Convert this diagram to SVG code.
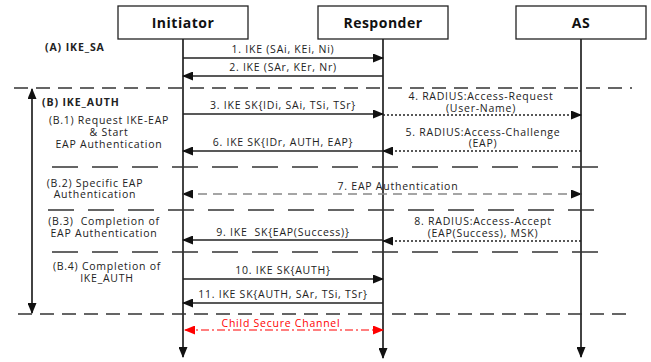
<svg xmlns="http://www.w3.org/2000/svg" width="651" height="362" viewBox="0 0 651 362">
<style>
text{font-family:"Open Sans","Noto Sans","DejaVu Sans",sans-serif;font-size:10.5px;letter-spacing:0.75px;fill:#222}
.b{font-weight:bold;letter-spacing:0.9px}
.hd{font-weight:bold;font-size:14px;letter-spacing:0.5px;fill:#111}
.m{text-anchor:middle}
.box{fill:#fff;stroke:#222;stroke-width:1.3}
.life{stroke:#222;stroke-width:1.7;fill:none}
.msg{stroke:#222;stroke-width:1.4;fill:none}
.dot{stroke:#222;stroke-width:1.3;stroke-dasharray:2,2;fill:none}
.gray{stroke:#888;stroke-width:1.4;stroke-dasharray:9,6;fill:none}
.red{stroke:#f00;stroke-width:1.2;stroke-dasharray:8,3,2,3;fill:none}
.sep{stroke:#333;stroke-width:1.4;stroke-dasharray:14,8;fill:none}
.sep2{stroke:#333;stroke-width:1.4;stroke-dasharray:26,14;fill:none}
</style>
<defs>
<marker id="ah" markerUnits="userSpaceOnUse" markerWidth="11" markerHeight="9" refX="10" refY="4.5" orient="auto-start-reverse"><path d="M0,0 L11,4.5 L0,9 z" fill="#111"/></marker>
<marker id="ahr" markerUnits="userSpaceOnUse" markerWidth="11" markerHeight="9" refX="10" refY="4.5" orient="auto-start-reverse"><path d="M0,0 L11,4.5 L0,9 z" fill="#f00"/></marker>
</defs>
<g id="initiator">
<rect class="box" x="118" y="6" width="130" height="33"/>
<text class="hd m" x="183" y="28">Initiator</text>
</g>
<g id="responder">
<rect class="box" x="318" y="6" width="130" height="33"/>
<text class="hd m" x="383" y="28">Responder</text>
</g>
<g id="as">
<rect class="box" x="516" y="6" width="130" height="33"/>
<text class="hd m" x="581" y="28">AS</text>
</g>
<g id="labels">
<text class="b" x="45" y="51">(A) IKE_SA</text>
<text class="b" x="42" y="106">(B) IKE_AUTH</text>
<text class="m" x="109" y="124">(B.1) Request IKE-EAP</text>
<text class="m" x="109" y="136">&amp; Start</text>
<text class="m" x="109" y="148">EAP Authentication</text>
<text class="m" x="95" y="187">(B.2) Specific EAP</text>
<text class="m" x="95" y="198">Authentication</text>
<text class="m" x="104" y="225" xml:space="preserve">(B.3)  Completion of</text>
<text class="m" x="104" y="237">EAP Authentication</text>
<text class="m" x="107" y="270">(B.4) Completion of</text>
<text class="m" x="107" y="282">IKE_AUTH</text>
</g>
<g id="connectors">
<line class="life" x1="183" y1="39" x2="183" y2="357" marker-end="url(#ah)"/>
<line class="life" x1="383" y1="39" x2="383" y2="358" marker-end="url(#ah)"/>
<line class="life" x1="581" y1="39" x2="581" y2="357" marker-end="url(#ah)"/>
<line class="life" x1="32" y1="89" x2="32" y2="313" marker-start="url(#ah)" marker-end="url(#ah)"/>
<line class="sep" x1="14" y1="88" x2="632" y2="88"/>
<line class="sep2" x1="52" y1="167" x2="598" y2="167"/>
<line class="sep2" x1="48" y1="210" x2="598" y2="210"/>
<line class="sep2" x1="52" y1="252" x2="598" y2="252"/>
<line class="sep" x1="18" y1="314" x2="634" y2="314"/>
<line class="msg" x1="183" y1="58" x2="383" y2="58" marker-end="url(#ah)"/>
<text class="m" x="283" y="53">1. IKE (SAi, KEi, Ni)</text>
<line class="msg" x1="383" y1="76" x2="183" y2="76" marker-end="url(#ah)"/>
<text class="m" x="283" y="71">2. IKE (SAr, KEr, Nr)</text>
<line class="msg" x1="183" y1="114" x2="383" y2="114" marker-end="url(#ah)"/>
<text class="m" x="283" y="109">3. IKE SK{IDi, SAi, TSi, TSr}</text>
<line class="dot" x1="383" y1="115" x2="581" y2="115" marker-end="url(#ah)"/>
<text class="m" x="481" y="100">4. RADIUS:Access-Request</text>
<text class="m" x="481" y="112">(User-Name)</text>
<line class="dot" x1="581" y1="151" x2="383" y2="151" marker-end="url(#ah)"/>
<text class="m" x="483" y="136">5. RADIUS:Access-Challenge</text>
<text class="m" x="483" y="147">(EAP)</text>
<line class="msg" x1="383" y1="151" x2="183" y2="151" marker-end="url(#ah)"/>
<text class="m" x="283" y="146">6. IKE SK{IDr, AUTH, EAP}</text>
<line class="gray" x1="183" y1="194" x2="581" y2="194" marker-start="url(#ah)" marker-end="url(#ah)"/>
<text class="m" x="398" y="190">7. EAP Authentication</text>
<line class="dot" x1="581" y1="241" x2="383" y2="241" marker-end="url(#ah)"/>
<text class="m" x="483" y="225">8. RADIUS:Access-Accept</text>
<text class="m" x="483" y="237">(EAP(Success), MSK)</text>
<line class="msg" x1="383" y1="240" x2="183" y2="240" marker-end="url(#ah)"/>
<text class="m" x="283" y="236" xml:space="preserve">9. IKE  SK{EAP(Success)}</text>
<line class="msg" x1="183" y1="279" x2="383" y2="279" marker-end="url(#ah)"/>
<text class="m" x="283" y="274">10. IKE SK{AUTH}</text>
<line class="msg" x1="383" y1="303" x2="183" y2="303" marker-end="url(#ah)"/>
<text class="m" x="283" y="298">11. IKE SK{AUTH, SAr, TSi, TSr}</text>
<line class="red" x1="185" y1="330" x2="383" y2="330" marker-start="url(#ahr)" marker-end="url(#ahr)"/>
<text class="m" x="281" y="327" style="fill:#f00">Child Secure Channel</text>
</g>
</svg>
